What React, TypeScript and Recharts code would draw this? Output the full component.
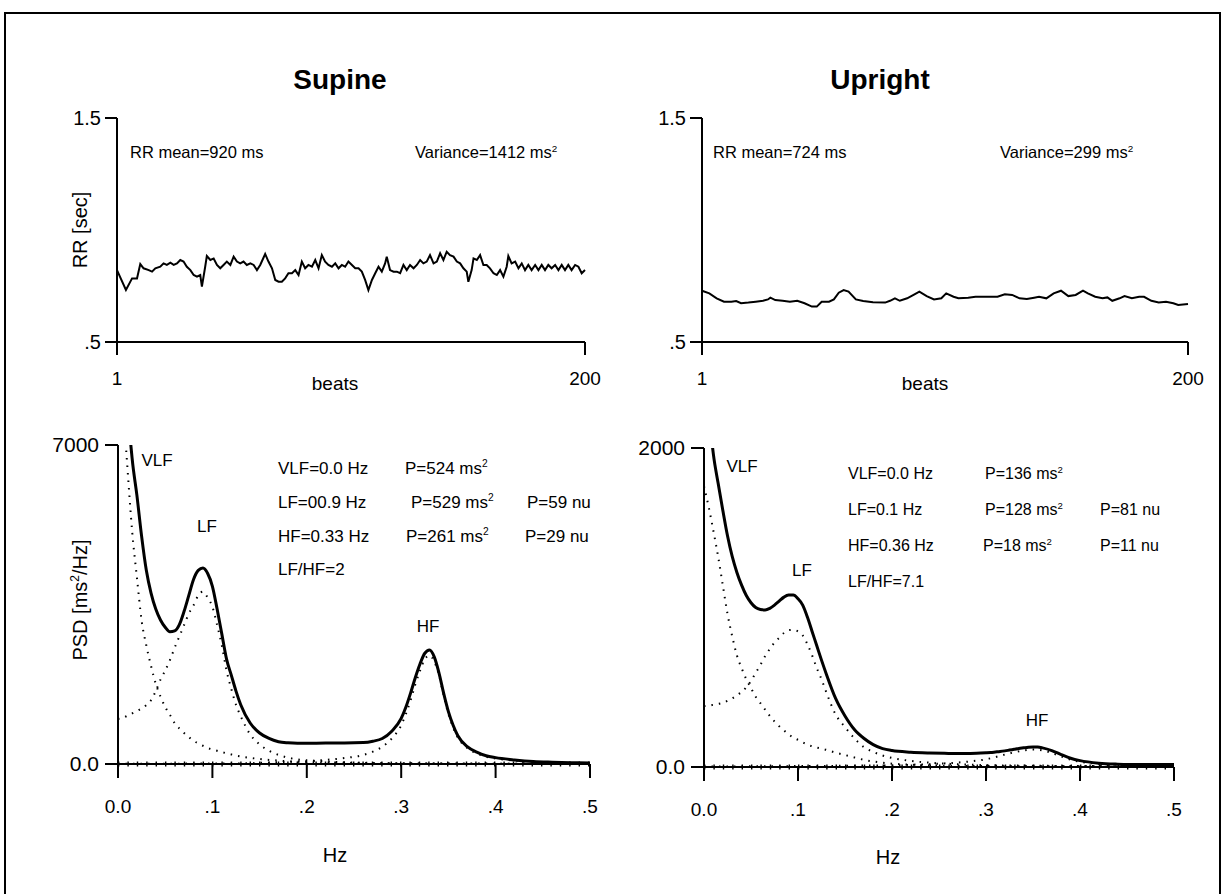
import React from "react";
import { LineChart, Line, XAxis, YAxis, ReferenceLine } from "recharts";

// RR tachograms: [beat, RR in sec]
const supineRR: [number, number][] = [
  [1, 0.821], [4.8, 0.732], [7.4, 0.784], [9.5, 0.784], [10.9, 0.848], [12.3, 0.829], [14.5, 0.821], [15.9, 0.814],
  [17.3, 0.829], [19.4, 0.836], [20.8, 0.851], [22.2, 0.844], [23.7, 0.854], [25.1, 0.844], [26.5, 0.851], [27.9, 0.866],
  [29.3, 0.859], [30.7, 0.836], [32.2, 0.821], [33.6, 0.799], [35, 0.792], [36.4, 0.799], [37.1, 0.747], [38.5, 0.836],
  [39.2, 0.884], [40.7, 0.866], [42.1, 0.873], [43.5, 0.844], [44.9, 0.829], [46.3, 0.844], [47.7, 0.859], [49.2, 0.844],
  [50.6, 0.881], [52, 0.859], [53.4, 0.851], [54.8, 0.859], [56.2, 0.844], [57.7, 0.851], [59.1, 0.844], [60.5, 0.821],
  [61.9, 0.844], [64, 0.893], [65.4, 0.859], [66.9, 0.829], [68.3, 0.777], [69.7, 0.769], [71.1, 0.769], [72.5, 0.784],
  [73.9, 0.807], [75.4, 0.807], [76.8, 0.821], [78.2, 0.799], [79.6, 0.859], [81, 0.829], [82.4, 0.844], [83.9, 0.836],
  [85.3, 0.866], [86.7, 0.829], [88.1, 0.888], [89.5, 0.859], [90.9, 0.844], [92.4, 0.836], [93.8, 0.851], [95.2, 0.829],
  [96.6, 0.844], [98, 0.836], [99.4, 0.859], [100.9, 0.844], [102.3, 0.829], [103.7, 0.829], [105.1, 0.814], [106.5, 0.777],
  [107.9, 0.732], [109.4, 0.777], [110.8, 0.807], [112.2, 0.836], [113.6, 0.814], [115, 0.851], [115.7, 0.881], [117.1, 0.821],
  [118.6, 0.814], [120, 0.814], [121.4, 0.807], [122.8, 0.844], [124.2, 0.821], [125.6, 0.844], [127.1, 0.829], [128.5, 0.844],
  [129.9, 0.866], [131.3, 0.851], [132.7, 0.859], [134.1, 0.888], [135.6, 0.851], [137, 0.859], [138.4, 0.896], [139.8, 0.866],
  [141.2, 0.903], [142.6, 0.888], [144.1, 0.881], [145.5, 0.859], [146.9, 0.851], [148.3, 0.829], [149.7, 0.814], [150.4, 0.769],
  [151.8, 0.821], [152.6, 0.873], [154, 0.866], [155.4, 0.888], [156.8, 0.844], [158.2, 0.844], [159.6, 0.829], [161.1, 0.807],
  [162.5, 0.799], [163.9, 0.821], [165.3, 0.792], [166.7, 0.836], [167.4, 0.884], [168.8, 0.851], [170.3, 0.859], [171.7, 0.829],
  [173.1, 0.851], [174.5, 0.821], [175.9, 0.844], [177.3, 0.821], [178.8, 0.844], [180.2, 0.821], [181.6, 0.844], [183, 0.821],
  [184.4, 0.844], [185.8, 0.829], [187.3, 0.844], [188.7, 0.821], [190.1, 0.844], [191.5, 0.821], [192.9, 0.844], [194.3, 0.821],
  [195.8, 0.844], [197.2, 0.836], [198.6, 0.807], [200, 0.821],
];

const uprightRR: [number, number][] = [
  [1, 0.729], [4, 0.717], [7, 0.695], [10, 0.68], [13, 0.68], [15, 0.683], [17, 0.673], [20, 0.676], [23, 0.68], [26, 0.684],
  [28, 0.69], [29, 0.698], [31, 0.687], [34, 0.684], [37, 0.68], [40, 0.684], [43, 0.673], [46, 0.658], [48, 0.658], [50, 0.68],
  [53, 0.68], [55, 0.69], [57, 0.72], [59, 0.732], [61, 0.725], [64, 0.69], [67, 0.683], [71, 0.677], [76, 0.676], [78, 0.684],
  [80, 0.695], [82, 0.684], [85, 0.695], [88, 0.713], [90, 0.725], [93, 0.705], [96, 0.69], [99, 0.695], [101, 0.717], [104, 0.702],
  [106, 0.695], [110, 0.698], [113, 0.702], [116, 0.702], [119, 0.702], [122, 0.702], [125, 0.713], [128, 0.71], [131, 0.695], [134, 0.692],
  [137, 0.698], [139, 0.702], [142, 0.695], [145, 0.717], [148, 0.729], [151, 0.705], [154, 0.71], [157, 0.729], [159, 0.717], [162, 0.702],
  [165, 0.695], [167, 0.699], [169, 0.684], [172, 0.695], [174, 0.705], [177, 0.695], [180, 0.702], [182, 0.702], [185, 0.684], [188, 0.676],
  [191, 0.68], [194, 0.673], [196, 0.665], [200, 0.67],
];

// PSD spectra sampled at these frequencies (Hz)
const freqHz = [
  0, 0.005, 0.01, 0.015, 0.02, 0.025, 0.03, 0.035, 0.04, 0.045,
  0.05, 0.055, 0.06, 0.065, 0.07, 0.075, 0.08, 0.085, 0.09, 0.095,
  0.1, 0.105, 0.11, 0.115, 0.12, 0.125, 0.13, 0.14, 0.15, 0.16,
  0.17, 0.18, 0.19, 0.2, 0.22, 0.24, 0.26, 0.27, 0.28, 0.29,
  0.3, 0.305, 0.31, 0.315, 0.32, 0.325, 0.33, 0.335, 0.34, 0.345,
  0.35, 0.355, 0.36, 0.37, 0.38, 0.39, 0.4, 0.42, 0.44, 0.46,
  0.48, 0.5,
];

const supineTotal = [
  13000, 10500, 8000, 6700, 5900, 5000, 4250, 3750, 3400, 3160,
  3000, 2900, 2920, 3060, 3350, 3700, 4050, 4250, 4300, 4180,
  3900, 3400, 2850, 2300, 1950, 1600, 1300, 900, 680, 560,
  490, 465, 455, 455, 460, 460, 470, 500, 560, 720,
  1000, 1250, 1560, 1900, 2200, 2430, 2500, 2350, 2000, 1550,
  1150, 850, 620, 380, 260, 180, 140, 90, 55, 40,
  30, 22,
];
const supineVLF = [
  10000, 8000, 6500, 5100, 4100, 3150, 2600, 2150, 1760, 1480,
  1250, 1080, 900, 780, 680, 590, 510, 450, 400, 350,
  320, 290, 260, 235, 210, 185, 165, 135, 110, 90,
  75, 60, 50, 42, 32, 25, 20, 18, 16, 14,
  13, 12, 12, 11, 11, 10, 10, 10, 9, 9,
  9, 8, 8, 8, 7, 7, 7, 6, 6, 5,
  5, 5,
];
const supineLF = [
  990, 1010, 1060, 1110, 1160, 1220, 1290, 1400, 1600, 1850,
  2050, 2280, 2550, 2800, 3050, 3300, 3480, 3700, 3780, 3650,
  3450, 3050, 2600, 2050, 1650, 1300, 1050, 650, 430, 290,
  200, 140, 100, 80, 55, 38, 28, 24, 20, 18,
  16, 15, 14, 14, 13, 13, 12, 12, 12, 11,
  11, 10, 10, 10, 9, 9, 8, 8, 7, 7,
  6, 6,
];
const supineHF = [
  5, 5, 5, 5, 6, 6, 6, 6, 7, 7,
  7, 7, 8, 8, 8, 9, 9, 9, 10, 10,
  10, 11, 11, 12, 12, 13, 14, 17, 25, 30,
  38, 45, 55, 65, 90, 130, 200, 270, 380, 560,
  850, 1100, 1400, 1750, 2050, 2300, 2380, 2250, 1950, 1500,
  1100, 800, 580, 350, 230, 160, 120, 75, 50, 35,
  25, 20,
];

const uprightTotal = [
  2700, 2250, 1960, 1780, 1610, 1450, 1320, 1220, 1140, 1075,
  1030, 1000, 988, 985, 995, 1015, 1040, 1065, 1078, 1078,
  1055, 1015, 940, 850, 760, 670, 585, 430, 320, 235,
  180, 140, 115, 103, 93, 88, 85, 84, 85, 86,
  89, 91, 94, 97, 101, 106, 111, 116, 120, 124,
  126, 125, 120, 103, 78, 55, 40, 24, 18, 16,
  15, 15,
];
const uprightVLF = [
  1760, 1630, 1480, 1320, 1140, 960, 820, 700, 620, 550,
  495, 440, 400, 360, 320, 285, 255, 230, 205, 185,
  170, 155, 140, 130, 122, 115, 108, 90, 75, 60,
  45, 35, 27, 21, 14, 10, 8, 7, 7, 6,
  6, 6, 6, 5, 5, 5, 5, 5, 5, 5,
  5, 4, 4, 4, 4, 4, 4, 4, 3, 3,
  3, 3,
];
const uprightLF = [
  382, 385, 390, 395, 402, 415, 430, 450, 470, 500,
  540, 590, 640, 695, 740, 780, 810, 840, 858, 860,
  850, 825, 770, 700, 620, 550, 470, 330, 250, 180,
  125, 95, 72, 57, 38, 27, 20, 17, 15, 13,
  12, 11, 11, 10, 10, 10, 9, 9, 9, 8,
  8, 8, 8, 7, 7, 7, 6, 6, 5, 5,
  5, 5,
];
const uprightHF = [
  3, 3, 3, 3, 3, 3, 3, 4, 4, 4,
  4, 4, 4, 5, 5, 5, 5, 5, 5, 6,
  6, 6, 6, 6, 7, 7, 7, 7, 8, 8,
  9, 9, 10, 10, 14, 18, 24, 28, 33, 40,
  48, 55, 62, 70, 78, 85, 92, 98, 104, 108,
  110, 109, 104, 88, 66, 46, 33, 20, 14, 11,
  9, 8,
];

const rrTicksY = [0.5, 1.5];
const rrTicksX = [1, 200];
const hzTicks = [0, 0.1, 0.2, 0.3, 0.4, 0.5];

const FONT = '"Liberation Sans", Arial, Helvetica, sans-serif';
const axisStroke = { stroke: "#000", strokeWidth: 2 };
const tickStyle = { fill: "#000", fontSize: 19, fontFamily: FONT };

const fmtRR = (v: number) => (v === 0.5 ? ".5" : v.toFixed(1));
const fmtHz = (v: number) => (v === 0 ? "0.0" : "." + Math.round(v * 10));

// plot-area box helpers: y axis width 70, top margin 20, x axis height 60
const YW = 70;
const MT = 20;
const XH = 60;

function RRPanel({ L, T, W, H, data }: { L: number; T: number; W: number; H: number; data: [number, number][] }) {
  const rows = data.map(([beat, rr]) => ({ beat, rr }));
  return (
    <div style={{ position: "absolute", left: L - YW, top: T - MT }}>
      <LineChart width={YW + W + 30} height={MT + H + XH} data={rows} margin={{ top: MT, right: 30, bottom: 0, left: 0 }}>
        <XAxis
          type="number"
          dataKey="beat"
          domain={[1, 200]}
          ticks={rrTicksX}
          interval={0}
          height={XH}
          axisLine={axisStroke}
          tickLine={axisStroke}
          tickSize={13}
          tickMargin={17}
          tick={tickStyle}
        />
        <YAxis
          type="number"
          domain={[0.5, 1.5]}
          ticks={rrTicksY}
          interval={0}
          width={YW}
          axisLine={axisStroke}
          tickLine={axisStroke}
          tickSize={12}
          tickMargin={4}
          tick={{ ...tickStyle, fontSize: 20 }}
          tickFormatter={fmtRR}
          allowDataOverflow
        />
        <Line type="linear" dataKey="rr" stroke="#000" strokeWidth={2} dot={false} isAnimationActive={false} />
      </LineChart>
    </div>
  );
}

function PSDPanel({
  L, T, W, H, max, total, vlf, lf, hf,
}: {
  L: number; T: number; W: number; H: number; max: number;
  total: number[]; vlf: number[]; lf: number[]; hf: number[];
}) {
  const rows = freqHz.map((f, i) => ({ f, total: total[i], vlf: vlf[i], lf: lf[i], hf: hf[i] }));
  const dotted = { stroke: "#000", strokeWidth: 2, strokeDasharray: "1.5 6", dot: false, isAnimationActive: false, type: "monotone" as const };
  return (
    <div style={{ position: "absolute", left: L - YW, top: T - MT }}>
      <LineChart width={YW + W + 30} height={MT + H + XH} data={rows} margin={{ top: MT, right: 30, bottom: 0, left: 0 }}>
        <XAxis
          type="number"
          dataKey="f"
          domain={[0, 0.5]}
          ticks={hzTicks}
          interval={0}
          height={XH}
          axisLine={axisStroke}
          tickLine={axisStroke}
          tickSize={14}
          tickMargin={22}
          tick={tickStyle}
          tickFormatter={fmtHz}
        />
        <YAxis
          type="number"
          domain={[0, max]}
          ticks={[0, max]}
          interval={0}
          width={YW}
          axisLine={axisStroke}
          tickLine={axisStroke}
          tickSize={13}
          tickMargin={6}
          tick={{ ...tickStyle, fontSize: 21 }}
          tickFormatter={(v: number) => (v === 0 ? "0.0" : String(v))}
          allowDataOverflow
        />
        <ReferenceLine y={0} stroke="#000" strokeWidth={5} strokeDasharray="1.4 8" />
        <Line dataKey="vlf" {...dotted} />
        <Line dataKey="lf" {...dotted} />
        <Line dataKey="hf" {...dotted} />
        <Line type="monotone" dataKey="total" stroke="#000" strokeWidth={3} dot={false} isAnimationActive={false} />
      </LineChart>
    </div>
  );
}

function Txt({
  x, y, size = 17, anchor = "start", bold = false, rotate = false, children,
}: {
  x: number; y: number; size?: number; anchor?: "start" | "middle" | "end"; bold?: boolean; rotate?: boolean; children: React.ReactNode;
}) {
  const tx = anchor === "middle" ? "-50%" : anchor === "end" ? "-100%" : "0";
  return (
    <div
      style={{
        position: "absolute",
        left: x,
        top: y,
        transform: `translate(${tx}, -50%)${rotate ? " rotate(-90deg)" : ""}`,
        fontFamily: FONT,
        fontSize: size,
        fontWeight: bold ? 700 : 400,
        whiteSpace: "nowrap",
        lineHeight: 1,
        color: "#000",
      }}
    >
      {children}
    </div>
  );
}

const Sq = () => <span style={{ fontSize: "0.6em", position: "relative", top: "-0.65em" }}>2</span>;

export default function App() {
  return (
    <div style={{ position: "absolute", left: 0, top: 0, width: 1225, height: 894, background: "#fff", overflow: "hidden" }}>
      <div style={{ position: "absolute", left: 4, top: 12, width: 1217, height: 900, border: "2px solid #000", boxSizing: "border-box" }} />

      <RRPanel L={117} T={118} W={468} H={224} data={supineRR} />
      <RRPanel L={702} T={118} W={486} H={224} data={uprightRR} />
      <PSDPanel L={118} T={445} W={472} H={319} max={7000} total={supineTotal} vlf={supineVLF} lf={supineLF} hf={supineHF} />
      <PSDPanel L={704} T={448} W={470} H={319} max={2000} total={uprightTotal} vlf={uprightVLF} lf={uprightLF} hf={uprightHF} />

      <Txt x={340} y={80} size={28} anchor="middle" bold>Supine</Txt>
      <Txt x={880} y={80} size={28} anchor="middle" bold>Upright</Txt>

      <Txt x={130} y={152} size={16.5}>RR mean=920 ms</Txt>
      <Txt x={415} y={152} size={16.5}>Variance=1412 ms<Sq /></Txt>
      <Txt x={713} y={152} size={16.5}>RR mean=724 ms</Txt>
      <Txt x={1000} y={152} size={16.5}>Variance=299 ms<Sq /></Txt>

      <Txt x={80} y={230} size={20} anchor="middle" rotate>RR [sec]</Txt>
      <Txt x={335} y={383} size={19} anchor="middle">beats</Txt>
      <Txt x={925} y={383} size={19} anchor="middle">beats</Txt>

      <Txt x={80} y={600} size={20} anchor="middle" rotate>PSD [ms<Sq />/Hz]</Txt>
      <Txt x={335} y={855} size={20} anchor="middle">Hz</Txt>
      <Txt x={888} y={857} size={20} anchor="middle">Hz</Txt>

      <Txt x={157} y={460} size={17} anchor="middle">VLF</Txt>
      <Txt x={207} y={526} size={17} anchor="middle">LF</Txt>
      <Txt x={428} y={626} size={17} anchor="middle">HF</Txt>

      <Txt x={278} y={468} size={17}>VLF=0.0 Hz</Txt>
      <Txt x={405} y={468} size={17}>P=524 ms<Sq /></Txt>
      <Txt x={278} y={502} size={17}>LF=00.9 Hz</Txt>
      <Txt x={411} y={502} size={17}>P=529 ms<Sq /></Txt>
      <Txt x={527} y={502} size={17}>P=59 nu</Txt>
      <Txt x={278} y={536} size={17}>HF=0.33 Hz</Txt>
      <Txt x={406} y={536} size={17}>P=261 ms<Sq /></Txt>
      <Txt x={525} y={536} size={17}>P=29 nu</Txt>
      <Txt x={278} y={569} size={17}>LF/HF=2</Txt>

      <Txt x={742} y={466} size={17} anchor="middle">VLF</Txt>
      <Txt x={802} y={570} size={17} anchor="middle">LF</Txt>
      <Txt x={1037} y={720} size={17} anchor="middle">HF</Txt>

      <Txt x={848} y={474} size={16}>VLF=0.0 Hz</Txt>
      <Txt x={985} y={474} size={16}>P=136 ms<Sq /></Txt>
      <Txt x={848} y={510} size={16}>LF=0.1 Hz</Txt>
      <Txt x={985} y={510} size={16}>P=128 ms<Sq /></Txt>
      <Txt x={1100} y={510} size={16}>P=81 nu</Txt>
      <Txt x={848} y={546} size={16}>HF=0.36 Hz</Txt>
      <Txt x={983} y={546} size={16}>P=18 ms<Sq /></Txt>
      <Txt x={1100} y={546} size={16}>P=11 nu</Txt>
      <Txt x={848} y={582} size={16}>LF/HF=7.1</Txt>
    </div>
  );
}
